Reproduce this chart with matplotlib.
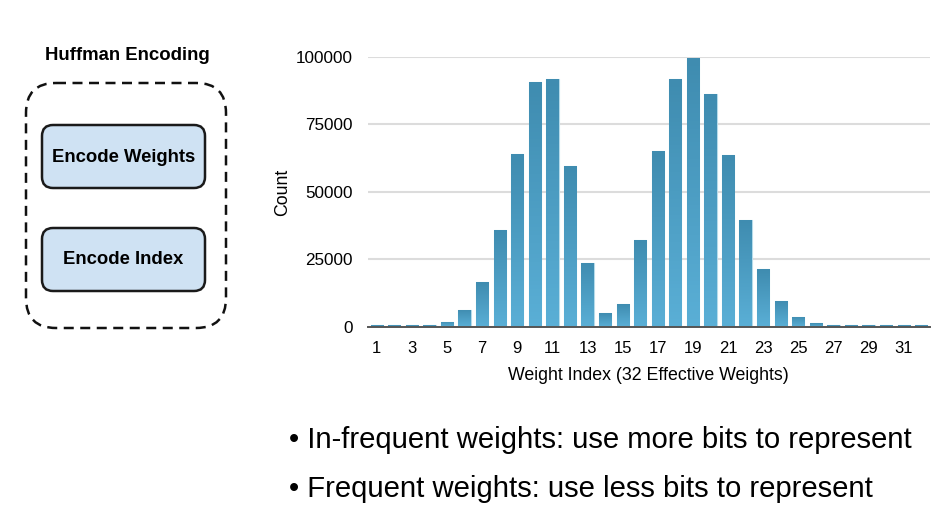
import matplotlib
matplotlib.use("Agg")
import matplotlib.pyplot as plt
import numpy as np
from matplotlib.patches import FancyBboxPatch
from matplotlib.colors import LinearSegmentedColormap

plt.rcParams['font.family'] = ['Liberation Sans', 'DejaVu Sans']

# ---- data ----
weight_index = list(range(1, 33))
counts = [700, 700, 700, 700, 2000, 6300, 16600, 35900, 63900, 90600,
          91900, 59500, 23700, 5100, 8400, 32100, 65000, 91600, 99400, 86200,
          63600, 39600, 21300, 9700, 3800, 1300, 700, 700, 700, 700, 700, 700]
xtick_labels = [str(i) for i in range(1, 32, 2)]
ytick_values = [0, 25000, 50000, 75000, 100000]
ytick_labels = ['0', '25000', '50000', '75000', '100000']
panel_title = "Huffman Encoding"
panel_boxes = ["Encode Weights", "Encode Index"]
bullets = ["• In-frequent weights: use more bits to represent",
           "• Frequent weights: use less bits to represent"]

W, H = 950, 516
fig = plt.figure(figsize=(W / 100, H / 100), dpi=100)

# ---- bar chart ----
ax = fig.add_axes([368 / W, 1 - 327 / H, 562 / W, (327 - 56.7) / H])
bars = ax.bar(weight_index, counts, width=0.7, color='#4c9dc3',
              edgecolor='#b5dbea', linewidth=0.8, zorder=2)
cmap = LinearSegmentedColormap.from_list('g', ['#5aafd6', '#3f8cb0'])
grad = np.linspace(0, 1, 64).reshape(-1, 1)
for b in bars:
    x0 = b.get_x(); w = b.get_width(); h = b.get_height()
    im = ax.imshow(grad, extent=[x0, x0 + w, 0, h], origin='lower',
                   aspect='auto', cmap=cmap, zorder=2.5)
    im.set_clip_path(b)
ax.set_xlim(0.5, 32.5)
ax.set_ylim(0, 100000)
ax.set_xticks(range(1, 32, 2))
ax.set_xticklabels(xtick_labels, fontsize=12)
ax.set_yticks(ytick_values)
ax.set_yticklabels(ytick_labels, fontsize=12.3)
ax.tick_params(axis='both', length=0)
ax.tick_params(axis='y', pad=11)
ax.tick_params(axis='x', pad=10)
ax.grid(axis='y', color='#dcdcdc', linewidth=1.5, zorder=0)
ax.set_axisbelow(True)
for s in ['top', 'right', 'left']:
    ax.spines[s].set_visible(False)
ax.spines['bottom'].set_color('#555555')
ax.spines['bottom'].set_linewidth(1.4)
ax.spines['bottom'].set_zorder(5)

fig.text(648 / W, 1 - 375 / H, "Weight Index (32 Effective Weights)",
         ha='center', va='center', fontsize=12.8)
fig.text(283 / W, 1 - 192 / H, "Count", rotation=90,
         ha='center', va='center', fontsize=12.8)

# ---- left panel and bullets (pixel overlay) ----
ov = fig.add_axes([0, 0, 1, 1], zorder=-1)
ov.set_xlim(0, W); ov.set_ylim(H, 0); ov.axis('off')

ov.add_patch(FancyBboxPatch((26, 83), 200, 245,
                            boxstyle="round,pad=0,rounding_size=30",
                            fill=False, edgecolor='#111111', linewidth=1.8,
                            linestyle=(0, (4, 2.6))))
for i, label in enumerate(panel_boxes):
    y0 = 125 + i * 103
    ov.add_patch(FancyBboxPatch((42, y0), 163, 63,
                                boxstyle="round,pad=0,rounding_size=11",
                                facecolor='#cfe2f3', edgecolor='#1a1a1a',
                                linewidth=1.8))
    ov.text(123.5, y0 + 32, label, ha='center', va='center',
            fontsize=13.3, fontweight='bold')
ov.text(127.5, 56, panel_title, ha='center', va='center',
        fontsize=13.4, fontweight='bold')

for i, t in enumerate(bullets):
    ov.text(289, 440 + i * 49, t, ha='left', va='center', fontsize=21.1)

fig.savefig("out.png", dpi=100)
